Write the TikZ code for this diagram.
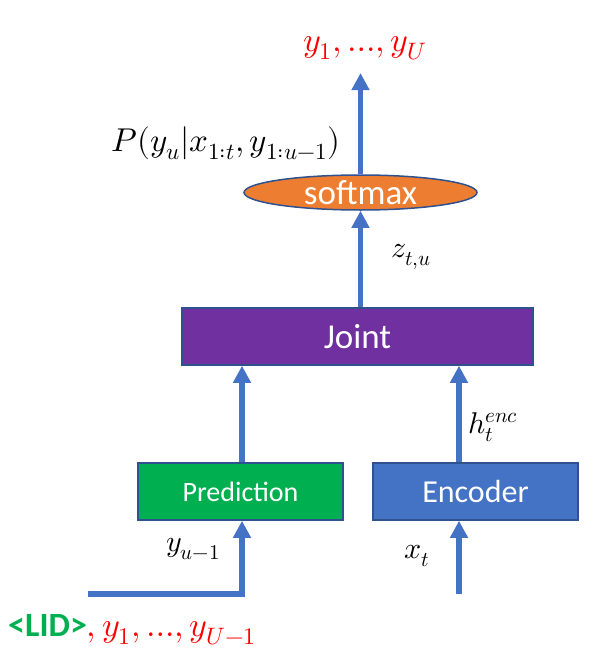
\documentclass[tikz,border=0pt]{standalone}
\usepackage{fontspec}
\usepackage{unicode-math}
\setmathfont{Latin Modern Math}
\setsansfont{Carlito}
\usetikzlibrary{shapes.geometric,arrows.meta}
\definecolor{arrowblue}{HTML}{4472C4}
\definecolor{edgeblue}{HTML}{2F528F}
\definecolor{jointpurple}{HTML}{7030A0}
\definecolor{predgreen}{HTML}{00B050}
\definecolor{softorange}{HTML}{ED7D31}
\definecolor{lidgreen}{HTML}{00B050}
\tikzset{
  block/.style={draw=edgeblue, line width=1.5pt, minimum height=57pt, inner sep=0pt, text=white, font=\sffamily},
  flow/.style={draw=arrowblue, line width=5.5pt, -{Triangle[length=17pt,width=17pt]}},
  lbl/.style={inner sep=0pt, font=\fontsize{30}{35}\selectfont},
}
\begin{document}
\begin{tikzpicture}[x=1pt,y=-1pt]
\useasboundingbox (0,0) rectangle (595,661);
\node[block, fill=jointpurple, minimum width=351pt, font=\sffamily\fontsize{35}{40}\selectfont] (joint) at (357.5,336.5) {Joint};
\node[block, fill=predgreen, minimum width=205pt, font=\sffamily\fontsize{28}{32}\selectfont] (pred) at (240.5,491.5) {Prediction};
\node[block, fill=arrowblue, minimum width=205pt, font=\sffamily\fontsize{32}{36}\selectfont] (enc) at (475.5,491.5) {Encoder};
\node[ellipse, draw=edgeblue, line width=1.5pt, fill=softorange, minimum width=233pt, minimum height=35pt, inner sep=0pt, text=white, font=\sffamily\fontsize{35}{40}\selectfont] (soft) at (360.5,192.5) {softmax};
\node[inner sep=0pt, text=red, font=\fontsize{34}{38}\selectfont] (out) at (365,48) {$y_1, …, y_U$};
\coordinate (outtip) at (360.5,73);
\coordinate (corner) at (242,594);
\coordinate (start) at (88,594);
\coordinate (xin) at (459,594);
\draw[flow] (soft.north) -- (outtip);
\draw[flow] (joint.north -| soft.south) -- (soft.south);
\draw[flow] (pred.north -| corner) -- (joint.south -| corner);
\draw[flow] (enc.north -| xin) -- (joint.south -| xin);
\draw[flow] (start) -- (corner) -- (pred.south -| corner);
\draw[flow] (xin) -- (enc.south -| xin);
\node[lbl, anchor=center, font=\fontsize{33}{38}\selectfont] (prob) at (226,143) {$P(y_u|x_{1:t},y_{1:u-1})$};
\node[lbl, anchor=west] (z) at (391,257) {$z_{t,u}$};
\node[lbl, anchor=west] (h) at (468,427) {$h_t^{enc}$};
\node[lbl, anchor=west] (yu) at (166,549) {$y_{u-1}$};
\node[lbl, anchor=west] (xt) at (404,556) {$x_t$};
\node[inner sep=0pt, anchor=west, font=\fontsize{34}{38}\selectfont] (bottom) at (8,630) {\textcolor{lidgreen}{\sffamily\bfseries <LID>}\textcolor{red}{$, y_1, …, y_{U-1}$}};
\end{tikzpicture}
\end{document}
